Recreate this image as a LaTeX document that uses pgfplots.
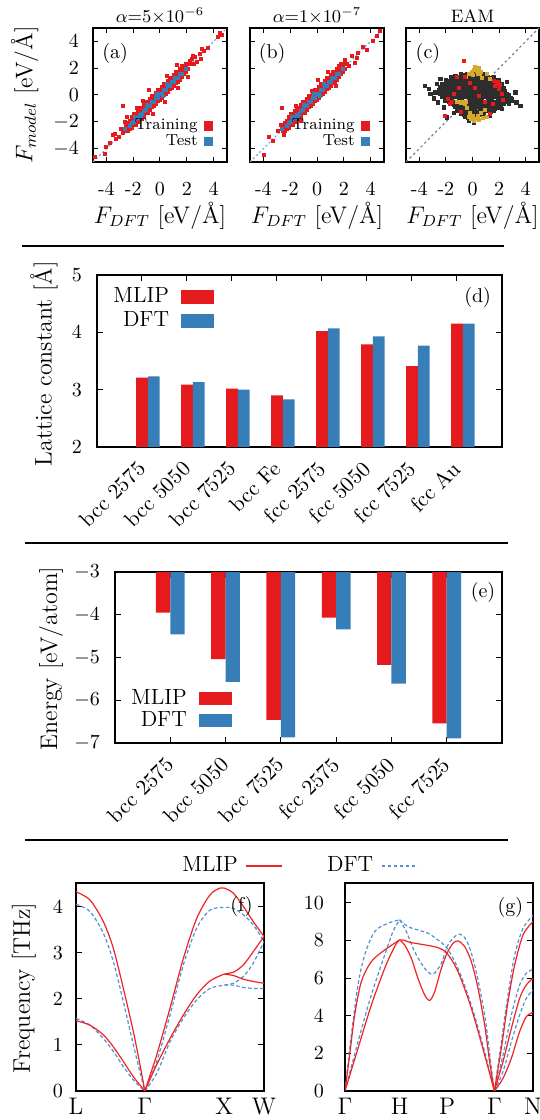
\documentclass[border=0pt]{standalone}
\usepackage{pgfplots}
\usepackage{pgfplotstable}
\pgfplotsset{compat=1.18}
\definecolor{mred}{RGB}{228,26,28}
\definecolor{mblue}{RGB}{55,126,184}
\definecolor{eamgray}{RGB}{45,45,45}
\definecolor{eamgold}{RGB}{214,168,44}
\definecolor{phred}{RGB}{238,36,36}
\definecolor{phblue}{RGB}{80,145,210}
\definecolor{diagblue}{RGB}{120,170,220}
\definecolor{diaggray}{RGB}{110,130,155}

% ---------- scatter data ----------
\pgfplotstableread{
x y
-2.55 -2.70
-2.55 -2.30
-2.40 -2.65
-2.40 -2.35
-2.40 -2.05
-2.25 -2.55
-2.25 -2.25
-2.25 -1.95
-2.10 -2.45
-2.10 -2.17
-2.10 -1.90
-2.10 -1.65
-1.95 -2.25
-1.95 -1.95
-1.95 -1.68
-1.95 -1.42
-1.80 -2.20
-1.80 -1.93
-1.80 -1.67
-1.80 -1.39
-1.65 -2.00
-1.65 -1.72
-1.65 -1.45
-1.65 -1.18
-1.50 -1.80
-1.50 -1.50
-1.50 -1.23
-1.50 -0.97
-1.35 -1.75
-1.35 -1.48
-1.35 -1.22
-1.35 -0.94
-1.20 -1.55
-1.20 -1.27
-1.20 -1.00
-1.20 -0.73
-1.05 -1.35
-1.05 -1.05
-1.05 -0.78
-1.05 -0.52
-0.90 -1.30
-0.90 -1.03
-0.90 -0.77
-0.90 -0.49
-0.75 -1.10
-0.75 -0.82
-0.75 -0.55
-0.75 -0.28
-0.60 -0.90
-0.60 -0.60
-0.60 -0.33
-0.60 -0.07
-0.45 -0.85
-0.45 -0.58
-0.45 -0.32
-0.45 -0.04
-0.30 -0.65
-0.30 -0.37
-0.30 -0.10
-0.30 0.17
-0.15 -0.45
-0.15 -0.15
-0.15 0.12
-0.15 0.38
0.00 -0.40
0.00 -0.13
0.00 0.13
0.00 0.41
0.15 -0.20
0.15 0.08
0.15 0.35
0.15 0.62
0.30 0.00
0.30 0.30
0.30 0.57
0.30 0.83
0.45 0.05
0.45 0.32
0.45 0.58
0.45 0.86
0.60 0.25
0.60 0.53
0.60 0.80
0.60 1.07
0.75 0.45
0.75 0.75
0.75 1.02
0.75 1.28
0.90 0.50
0.90 0.77
0.90 1.03
0.90 1.31
1.05 0.70
1.05 0.98
1.05 1.25
1.05 1.52
1.20 0.90
1.20 1.20
1.20 1.47
1.20 1.73
1.35 0.95
1.35 1.22
1.35 1.48
1.35 1.76
1.50 1.15
1.50 1.43
1.50 1.70
1.50 1.97
1.65 1.35
1.65 1.65
1.65 1.92
1.65 2.18
1.80 1.55
1.80 1.85
1.80 2.15
1.95 1.75
1.95 2.10
1.95 2.35
2.10 1.95
2.10 2.35
2.25 2.30
}\trCore

\pgfplotstableread{
x y
-4.85 -4.65
-4.10 -4.40
-4.00 -3.90
-3.75 -3.55
-3.40 -2.90
-3.30 -3.30
-3.05 -3.15
-2.90 -2.50
-2.80 -2.85
-2.75 -0.80
-2.65 -2.00
-2.45 -1.60
-1.70 -0.95
-1.30 -0.45
-0.85 0.35
0.55 1.45
1.25 2.25
2.05 1.35
2.35 2.70
2.50 2.30
2.60 2.85
2.95 3.05
3.05 2.70
3.30 3.30
3.55 3.50
4.30 4.30
4.50 4.60
4.65 4.45
1.35 0.55
0.35 -0.55
-0.55 -1.40
2.45 2.95
2.20 2.55
-3.55 -3.00
2.75 2.45
3.15 3.45
}\trOutA

\pgfplotstableread{
x y
-4.00 -4.48
-3.56 -3.11
-3.30 -3.40
-2.95 -2.70
-2.63 -0.99
-2.70 -2.20
-2.45 -2.95
-1.60 -0.80
-1.20 -1.90
0.05 1.12
0.85 1.75
1.80 2.35
2.10 2.60
2.40 2.20
2.60 2.95
2.84 2.36
3.08 3.11
2.95 2.80
3.40 3.60
3.70 3.35
4.20 4.00
4.45 4.40
4.70 4.75
1.40 0.70
-0.40 0.30
}\trOutB

\pgfplotstableread{
x y
-2.25 -2.30
-2.10 -2.05
-1.95 -2.00
-1.80 -1.75
-1.65 -1.70
-1.50 -1.45
-1.35 -1.42
-1.20 -1.15
-1.05 -1.10
-0.90 -0.85
-0.75 -0.80
-0.60 -0.55
-0.45 -0.50
-0.30 -0.25
-0.15 -0.20
0.00 0.05
0.15 0.10
0.30 0.35
0.45 0.40
0.60 0.65
0.75 0.70
0.90 0.95
1.05 1.00
1.20 1.25
1.35 1.30
1.50 1.55
1.65 1.60
-1.90 -1.60
-1.00 -0.75
-0.20 0.05
0.50 0.80
1.10 1.30
-1.40 -1.60
0.20 -0.10
-2.60 -2.55
1.90 1.95
}\teAB

\pgfplotstableread{
x y
-0.9 1.59
-0.65 1.52
-0.4 1.57
-0.15 1.50
0.1 1.58
0.35 1.55
0.6 1.51
0.85 1.60
1.1 1.53
-1.6 1.34
-1.35 1.27
-1.1 1.32
-0.85 1.25
-0.6 1.33
-0.35 1.30
-0.1 1.26
0.15 1.35
0.4 1.28
0.65 1.34
0.9 1.27
1.15 1.32
1.4 1.25
1.6 1.33
-1.98 1.09
-1.73 1.02
-1.48 1.07
-1.23 1.00
-0.98 1.08
-0.73 1.05
-0.48 1.01
-0.23 1.10
0.02 1.03
0.27 1.09
0.52 1.02
0.77 1.07
1.02 1.00
1.27 1.08
1.52 1.05
1.77 1.01
1.95 1.10
-2.3 0.84
-2.05 0.77
-1.8 0.82
-1.55 0.75
-1.3 0.83
-1.05 0.80
-0.8 0.76
-0.55 0.85
-0.3 0.78
-0.05 0.84
0.2 0.77
0.45 0.82
0.7 0.75
0.95 0.83
1.2 0.80
1.45 0.76
1.7 0.85
1.95 0.78
2.2 0.84
-2.42 0.59
-2.17 0.52
-1.92 0.57
-1.67 0.50
-1.42 0.58
-1.17 0.55
-0.92 0.51
-0.67 0.60
-0.42 0.53
-0.17 0.59
0.08 0.52
0.33 0.57
0.58 0.50
0.83 0.58
1.08 0.55
1.33 0.51
1.58 0.60
1.83 0.53
2.08 0.59
2.33 0.52
-2.55 0.34
-2.3 0.27
-2.05 0.32
-1.8 0.25
-1.55 0.33
-1.3 0.30
-1.05 0.26
-0.8 0.35
-0.55 0.28
-0.3 0.34
-0.05 0.27
0.2 0.32
0.45 0.25
0.7 0.33
0.95 0.30
1.2 0.26
1.45 0.35
1.7 0.28
1.95 0.34
2.2 0.27
2.45 0.32
-2.45 0.09
-2.2 0.02
-1.95 0.07
-1.7 0.00
-1.45 0.08
-1.2 0.05
-0.95 0.01
-0.7 0.10
-0.45 0.03
-0.2 0.09
0.05 0.02
0.3 0.07
0.55 0.00
0.8 0.08
1.05 0.05
1.3 0.01
1.55 0.10
1.8 0.03
2.05 0.09
2.3 0.02
2.55 0.07
2.75 0.00
-2.3 -0.16
-2.05 -0.23
-1.8 -0.18
-1.55 -0.25
-1.3 -0.17
-1.05 -0.20
-0.8 -0.24
-0.55 -0.15
-0.3 -0.22
-0.05 -0.16
0.2 -0.23
0.45 -0.18
0.7 -0.25
0.95 -0.17
1.2 -0.20
1.45 -0.24
1.7 -0.15
1.95 -0.22
2.2 -0.16
2.45 -0.23
2.7 -0.18
2.88 -0.25
-2.05 -0.41
-1.8 -0.48
-1.55 -0.43
-1.3 -0.50
-1.05 -0.42
-0.8 -0.45
-0.55 -0.49
-0.3 -0.40
-0.05 -0.47
0.2 -0.41
0.45 -0.48
0.7 -0.43
0.95 -0.50
1.2 -0.42
1.45 -0.45
1.7 -0.49
1.95 -0.40
2.2 -0.47
2.45 -0.41
2.7 -0.48
2.95 -0.43
-1.65 -0.66
-1.4 -0.73
-1.15 -0.68
-0.9 -0.75
-0.65 -0.67
-0.4 -0.70
-0.15 -0.74
0.1 -0.65
0.35 -0.72
0.6 -0.66
0.85 -0.73
1.1 -0.68
1.35 -0.75
1.6 -0.67
1.85 -0.70
2.1 -0.74
2.35 -0.65
-1.35 -0.91
-1.1 -0.98
-0.85 -0.93
-0.6 -1.00
-0.35 -0.92
-0.1 -0.95
0.15 -0.99
0.4 -0.90
0.65 -0.97
0.9 -0.91
1.15 -0.98
1.4 -0.93
1.65 -1.00
1.9 -0.92
-1.15 -1.16
-0.9 -1.23
-0.65 -1.18
-0.4 -1.25
-0.15 -1.17
0.1 -1.20
0.35 -1.24
0.6 -1.15
0.85 -1.22
1.1 -1.16
1.35 -1.23
1.6 -1.18
-0.9 -1.41
-0.65 -1.48
-0.4 -1.43
-0.15 -1.50
0.1 -1.42
0.35 -1.45
0.6 -1.49
0.85 -1.40
-0.6 -1.66
-0.35 -1.73
-0.1 -1.68
0.15 -1.75
0.4 -1.67
-3.55 0.70
-2.79 0.20
-3.17 0.07
-2.67 0.82
-2.42 1.19
-2.17 -0.92
-1.92 -1.67
3.22 0.20
3.60 -0.80
2.72 -0.67
2.22 -1.04
2.97 -0.30
0.09 -2.04
-0.29 -1.92
-1.29 1.44
0.21 1.82
-2.90 -0.25
-3.30 0.45
3.30 -0.55
2.60 1.00
-2.60 -0.55
1.30 -1.55
-1.40 -1.35
}\eamBlack

\pgfplotstableread{
x y
0.90 1.00
1.20 0.50
1.05 0.25
0.50 -0.80
0.80 0.60
1.50 0.90
0.25 1.35
-0.10 1.20
0.30 -1.20
}\eamGold

\pgfplotstableread{
x y
-0.50 1.35
-0.30 1.60
0.00 1.50
0.10 1.90
0.30 1.80
0.45 2.05
0.55 1.55
0.70 1.30
0.60 1.75
1.30 1.20
1.10 1.55
0.40 1.60
-0.05 1.75
0.20 2.10
-0.90 -0.60
-0.60 -0.70
-0.40 -1.00
-0.20 -1.30
0.00 -1.55
0.20 -1.75
0.40 -1.55
0.60 -1.35
0.50 -1.85
-0.10 -1.80
-0.30 -1.60
0.90 -1.10
-0.70 -0.55
-1.00 -0.50
0.75 -1.70
0.10 -1.95
-1.20 -0.55
-0.50 -0.55
1.30 -1.40
1.10 -1.60
}\eamGoldTop

\pgfplotstableread{
x y
-0.66 2.56
-1.67 -0.67
-1.54 -0.55
1.72 0.70
1.84 0.82
1.59 1.07
1.97 0.45
1.34 -1.42
-2.04 -1.54
-0.91 -1.29
-0.54 1.32
-1.17 1.32
2.22 0.07
-1.00 0.50
0.50 -0.10
-0.20 0.90
1.50 -0.70
2.05 0.75
1.90 1.00
-1.40 0.10
0.90 -0.50
2.30 -0.35
-1.85 -0.30
0.20 0.55
}\eamRed

% ---------- bar data ----------
\pgfplotstableread{
i mlip dft
0 3.21 3.23
1 3.09 3.13
2 3.02 3.00
3 2.90 2.83
4 4.02 4.07
5 3.79 3.93
6 3.41 3.77
7 4.15 4.15
}\latt

\pgfplotstableread{
i mlip dft
0 -3.95 -4.46
1 -5.04 -5.57
2 -6.46 -6.87
3 -4.07 -4.34
4 -5.17 -5.61
5 -6.54 -6.89
}\energy

\pgfplotsset{
  scat/.style={
    scale only axis, width=67pt, height=67pt,
    xmin=-5, xmax=5, ymin=-5, ymax=5,
    xtick={-4,-2,0,2,4}, xticklabels={-4,-2,0,2,4},
    ytick={-4,-2,0,2,4},
    major tick length=2.6pt,
    tick style={black, line width=0.5pt},
    axis line style={line width=0.8pt},
    xticklabel style={yshift=-6.5pt},
    yticklabel style={xshift=-3.5pt},
    xlabel={$F_{DFT}$ [eV/\AA]},
    xlabel style={font=\large, at={(axis description cs:0.5,-0.40)}, anchor=center},
    legend style={draw=none, fill=none, font=\footnotesize,
      at={(axis description cs:0.945,0.04)}, anchor=south east, row sep=-3pt,
      /tikz/every odd column/.append style={column sep=1pt}},
    legend plot pos=right, legend cell align=right,
  },
  trmark/.style={only marks, mark=square*, mark size=0.75pt, color=mred},
  temark/.style={only marks, mark=square*, mark size=0.75pt, color=mblue},
  phr/.style={phred, line width=0.6pt, smooth, forget plot},
  phb/.style={phblue, line width=0.6pt, dash pattern=on 1.8pt off 1.2pt, smooth, forget plot},
  catlab/.style={xticklabel style={xshift=2.3pt, yshift=-6.6pt, rotate=45, anchor=east, font=\fontsize{10.8}{12}\selectfont}},
}

\begin{document}
\begin{tikzpicture}
\useasboundingbox (0,0) rectangle (270pt,560pt);

% separators
\draw[line width=1pt] (11pt,437pt) -- (252pt,437pt);
\draw[line width=1pt] (12.5pt,288.5pt) -- (254pt,288.5pt);
\draw[line width=1pt] (12.5pt,140pt) -- (254pt,140pt);

% ---------------- (a) ----------------
\begin{axis}[scat, at={(46.5pt,479pt)}, anchor=south west,
  ylabel={$F_{model}$ [eV/\AA]},
  ylabel style={font=\large, at={(axis description cs:-0.51,0.5)}, anchor=center},
  after end axis/.code={\node[font=\small] at (rel axis cs:0.5,1.09) {$\alpha{=}5{\times}10^{-6}$};}]
\addplot[diagblue, dash pattern=on 1pt off 1.2pt, line width=0.6pt, forget plot] coordinates {(-5,-5) (5,5)};
\addplot[trmark, forget plot] table {\trCore};
\addplot[trmark, forget plot] table {\trOutA};
\addplot[temark, forget plot] table {\teAB};
\addlegendimage{legend image code/.code={\fill[mred] (0pt,-2.2pt) rectangle (4.4pt,2.2pt);}}
\addlegendentry{Training}
\addlegendimage{legend image code/.code={\fill[mblue] (0pt,-2.2pt) rectangle (4.4pt,2.2pt);}}
\addlegendentry{Test}
\node[font=\normalsize] at (rel axis cs:0.165,0.81) {(a)};
\end{axis}

% ---------------- (b) ----------------
\begin{axis}[scat, at={(125pt,479pt)}, anchor=south west, yticklabels={},
  after end axis/.code={\node[font=\small] at (rel axis cs:0.5,1.09) {$\alpha{=}1{\times}10^{-7}$};}]
\addplot[diagblue, dash pattern=on 1pt off 1.2pt, line width=0.6pt, forget plot] coordinates {(-5,-5) (5,5)};
\addplot[trmark, forget plot] table {\trCore};
\addplot[trmark, forget plot] table {\trOutB};
\addplot[temark, forget plot] table {\teAB};
\addlegendimage{legend image code/.code={\fill[mred] (0pt,-2.2pt) rectangle (4.4pt,2.2pt);}}
\addlegendentry{Training}
\addlegendimage{legend image code/.code={\fill[mblue] (0pt,-2.2pt) rectangle (4.4pt,2.2pt);}}
\addlegendentry{Test}
\node[font=\normalsize] at (rel axis cs:0.165,0.81) {(b)};
\end{axis}

% ---------------- (c) ----------------
\begin{axis}[scat, at={(203pt,479pt)}, anchor=south west, width=66.5pt, yticklabels={},
  after end axis/.code={\node[font=\small] at (rel axis cs:0.5,1.09) {EAM};}]
\addplot[diaggray, dash pattern=on 1.2pt off 1.4pt, line width=0.6pt] coordinates {(-5,-5) (5,5)};
\addplot[only marks, mark=square*, mark size=0.75pt, color=eamgold] table {\eamGold};
\addplot[only marks, mark=square*, mark size=0.8pt, color=eamgray] table {\eamBlack};
\addplot[only marks, mark=square*, mark size=0.75pt, color=eamgold] table {\eamGoldTop};
\addplot[only marks, mark=square*, mark size=0.75pt, color=mred] table {\eamRed};
\node[font=\normalsize] at (rel axis cs:0.165,0.81) {(c)};
\end{axis}

% ---------------- (d) ----------------
\begin{axis}[at={(48.5pt,336.5pt)}, anchor=south west, scale only axis,
  width=202.5pt, height=86pt,
  xmin=-1, xmax=8, ymin=2, ymax=5, ytick={2,3,4,5},
  xtick={0,...,7},
  xticklabels={bcc 2575, bcc 5050, bcc 7525, bcc Fe, fcc 2575, fcc 5050, fcc 7525, fcc Au},
  catlab,
  yticklabel style={xshift=-4pt},
  major tick length=3pt, tick style={black, line width=0.5pt},
  axis line style={line width=0.7pt},
  ylabel={Lattice constant [\AA]},
  ylabel style={font=\large, at={(axis description cs:-0.131,0.485)}, anchor=center},
  legend style={draw=none, fill=none, font=\fontsize{11}{13}\selectfont,
    at={(axis description cs:0.015,0.975)}, anchor=north west, row sep=-1pt,
    /tikz/every odd column/.append style={column sep=4pt}},
  legend plot pos=right, legend cell align=right,
]
\addplot[ybar, bar width=0.26, bar shift=0, fill=mred, draw=none, forget plot] table[x=i, y=mlip] {\latt};
\addplot[ybar, bar width=0.26, bar shift=0.26, fill=mblue, draw=none, forget plot] table[x=i, y=dft] {\latt};
\addlegendimage{legend image code/.code={\fill[mred] (0pt,-3.2pt) rectangle (16pt,3.2pt);}}
\addlegendentry{MLIP}
\addlegendimage{legend image code/.code={\fill[mblue] (0pt,-3.2pt) rectangle (16pt,3.2pt);}}
\addlegendentry{DFT}
\node[font=\normalsize] at (rel axis cs:0.94,0.872) {(d)};
\end{axis}

% ---------------- (e) ----------------
\begin{axis}[at={(57.5pt,188.5pt)}, anchor=south west, scale only axis,
  width=193.5pt, height=85.5pt,
  xmin=-1, xmax=6, ymin=-7, ymax=-3, ytick={-7,-6,-5,-4,-3},
  xtick={0,...,5},
  xticklabels={bcc 2575, bcc 5050, bcc 7525, fcc 2575, fcc 5050, fcc 7525},
  catlab,
  yticklabel style={xshift=-4pt},
  major tick length=3pt, tick style={black, line width=0.5pt},
  axis line style={line width=0.7pt},
  ylabel={Energy [eV/atom]},
  ylabel style={font=\large, at={(axis description cs:-0.165,0.494)}, anchor=center},
  legend style={draw=none, fill=none, font=\fontsize{11}{13}\selectfont,
    at={(axis description cs:0.015,0.03)}, anchor=south west, row sep=-2pt,
    /tikz/every odd column/.append style={column sep=4pt}},
  legend plot pos=right, legend cell align=right,
]
\addplot[ybar, bar width=0.26, bar shift=-0.13, fill=mred, draw=none, forget plot] table[x=i, y=mlip] {\energy};
\addplot[ybar, bar width=0.26, bar shift=0.13, fill=mblue, draw=none, forget plot] table[x=i, y=dft] {\energy};
\addlegendimage{legend image code/.code={\fill[mred] (0pt,-3.2pt) rectangle (16pt,3.2pt);}}
\addlegendentry{MLIP}
\addlegendimage{legend image code/.code={\fill[mblue] (0pt,-3.2pt) rectangle (16pt,3.2pt);}}
\addlegendentry{DFT}
\node[font=\normalsize] at (rel axis cs:0.951,0.883) {(e)};
\end{axis}

% ---------------- (f) ----------------
\begin{axis}[at={(38pt,14.5pt)}, anchor=south west, scale only axis,
  width=94pt, height=104pt,
  xmin=0, xmax=2.366, ymin=0, ymax=4.52, ytick={0,1,2,3,4},
  xtick={0,0.866,1.866,2.366}, xticklabels={L,$\Gamma$,X,W},
  xticklabel style={font=\large},
  yticklabel style={xshift=-3pt},
  major tick length=3pt, tick style={black, line width=0.5pt},
  major x tick style={draw=none},
  axis line style={line width=0.6pt},
  ylabel={Frequency [THz]},
  ylabel style={font=\large, at={(axis description cs:-0.277,0.495)}, anchor=center},
  legend style={draw=none, fill=none, font=\fontsize{11}{13}\selectfont,
    at={(axis description cs:0.51,1.082)}, anchor=west,
    /tikz/every odd column/.append style={column sep=2pt},
    /tikz/every even column/.append style={column sep=20pt}},
  legend columns=2, legend plot pos=right,
]
\addplot[phb] coordinates {(0,4.06) (0.176,3.90) (0.344,3.43) (0.470,2.81) (0.596,1.94) (0.722,1.00) (0.805,0.42) (0.866,0)};
\addplot[phb] coordinates {(0,1.58) (0.176,1.43) (0.344,1.14) (0.470,0.86) (0.596,0.53) (0.722,0.24) (0.866,0)};
\addplot[phb] coordinates {(0.866,0) (1.015,0.64) (1.183,1.65) (1.351,2.74) (1.519,3.54) (1.686,3.93) (1.866,3.99) (1.980,3.97) (2.106,3.83) (2.232,3.61) (2.366,3.25)};
\addplot[phb] coordinates {(0.866,0) (1.015,0.38) (1.183,1.07) (1.351,1.58) (1.519,1.98) (1.686,2.23) (1.866,2.30) (1.980,2.34) (2.106,2.49) (2.232,2.78) (2.366,3.25)};
\addplot[phb] coordinates {(1.866,2.30) (1.980,2.30) (2.106,2.25) (2.232,2.23) (2.366,2.23)};
\addplot[phr] coordinates {(0,4.33) (0.176,4.15) (0.344,3.68) (0.470,3.10) (0.596,2.23) (0.722,1.29) (0.805,0.57) (0.866,0)};
\addplot[phr] coordinates {(0,1.53) (0.176,1.43) (0.344,1.22) (0.470,0.96) (0.596,0.64) (0.722,0.31) (0.866,0)};
\addplot[phr] coordinates {(0.866,0) (1.015,0.78) (1.183,1.80) (1.351,2.88) (1.519,3.75) (1.686,4.26) (1.812,4.41) (1.866,4.41) (1.980,4.30) (2.106,4.01) (2.232,3.68) (2.366,3.36)};
\addplot[phr] coordinates {(0.866,0) (1.015,0.57) (1.183,1.14) (1.351,1.65) (1.519,2.09) (1.686,2.39) (1.866,2.54) (1.980,2.58) (2.106,2.74) (2.232,3.03) (2.366,3.36)};
\addplot[phr] coordinates {(1.866,2.54) (1.980,2.51) (2.106,2.43) (2.232,2.38) (2.366,2.34)};
\addlegendimage{legend image code/.code={\draw[phred, line width=0.6pt] (0pt,0pt) -- (18pt,0pt);}}
\addlegendentry{MLIP}
\addlegendimage{legend image code/.code={\draw[phblue, line width=0.6pt, dash pattern=on 1.8pt off 1.2pt] (0pt,0pt) -- (18pt,0pt);}}
\addlegendentry{DFT}
\node[font=\normalsize] at (rel axis cs:0.88,0.885) {(f)};
\end{axis}

% ---------------- (g) ----------------
\begin{axis}[at={(172.5pt,14.5pt)}, anchor=south west, scale only axis,
  width=94pt, height=104pt,
  xmin=0, xmax=3.439, ymin=0, ymax=11.06, ytick={0,2,4,6,8,10},
  xtick={0,1,1.866,2.732,3.439}, xticklabels={$\Gamma$,H,P,$\Gamma$,N},
  xticklabel style={font=\large},
  yticklabel style={xshift=-7pt},
  major tick length=3pt, tick style={black, line width=0.5pt},
  major x tick style={draw=none},
  axis line style={line width=0.6pt},
]
\addplot[phb] coordinates {(0,0) (0.238,2.62) (0.482,5.11) (0.726,7.23) (0.878,8.48) (1.0,9.10)};
\addplot[phb] coordinates {(0,0) (0.116,2.98) (0.238,5.64) (0.360,7.23) (0.543,8.48) (0.787,8.92) (1.0,9.10)};
\addplot[phb] coordinates {(1.0,9.10) (1.152,8.74) (1.335,8.56) (1.518,8.39) (1.701,8.03) (1.866,7.59) (2.067,6.52) (2.311,4.57) (2.555,2.09) (2.732,0)};
\addplot[phb] coordinates {(1.0,9.10) (1.122,8.48) (1.274,7.41) (1.457,6.52) (1.610,6.21) (1.762,6.79) (1.884,7.77) (2.067,8.33) (2.219,8.03) (2.372,6.70) (2.555,4.04) (2.677,1.21) (2.732,0)};
\addplot[phb] coordinates {(2.732,0) (2.860,2.62) (2.982,5.11) (3.104,7.23) (3.257,8.65) (3.439,9.33)};
\addplot[phb] coordinates {(2.732,0) (2.890,1.91) (3.043,4.04) (3.195,5.64) (3.317,6.26) (3.439,6.47)};
\addplot[phb] coordinates {(2.732,0) (2.890,1.03) (3.043,2.62) (3.195,4.04) (3.317,4.93) (3.439,5.37)};
\addplot[phr] coordinates {(0,0) (0.238,2.27) (0.482,4.57) (0.726,6.52) (0.878,7.50) (1.0,8.03) (1.213,7.89) (1.457,7.77) (1.701,7.62) (1.866,7.32) (2.067,6.35) (2.311,4.40) (2.555,1.91) (2.732,0)};
\addplot[phr] coordinates {(0,0) (0.085,1.91) (0.177,4.04) (0.299,5.82) (0.482,6.88) (0.726,7.50) (1.0,8.03)};
\addplot[phr] coordinates {(1.0,8.03) (1.091,7.77) (1.213,7.06) (1.335,5.99) (1.457,5.11) (1.549,4.82) (1.640,5.28) (1.762,6.52) (1.866,7.32) (1.975,7.85) (2.067,7.98) (2.189,7.68) (2.311,6.88) (2.433,5.46) (2.555,3.51) (2.646,1.56) (2.732,0)};
\addplot[phr] coordinates {(2.732,0) (2.860,2.27) (2.982,4.75) (3.104,6.70) (3.257,8.30) (3.439,9.01)};
\addplot[phr] coordinates {(2.732,0) (2.890,1.56) (3.043,3.33) (3.195,4.93) (3.317,5.64) (3.439,5.99)};
\addplot[phr] coordinates {(2.732,0) (2.890,0.67) (3.043,1.74) (3.195,3.16) (3.317,3.95) (3.439,4.18)};
\node[font=\normalsize] at (rel axis cs:0.88,0.882) {(g)};
\end{axis}
\end{tikzpicture}
\end{document}
